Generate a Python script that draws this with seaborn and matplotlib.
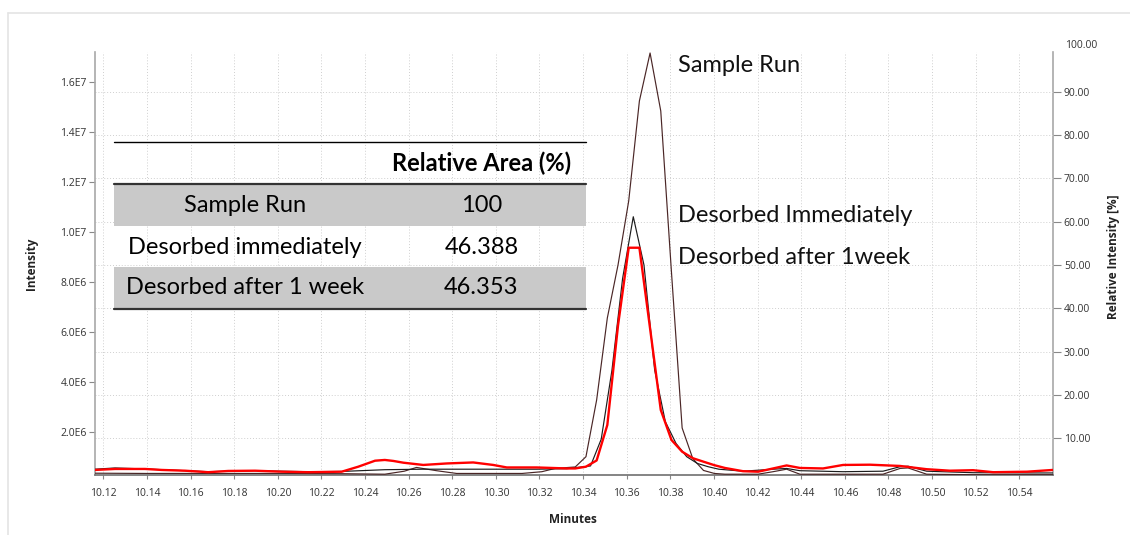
import numpy as np
import pandas as pd
import matplotlib
matplotlib.use("Agg")
import matplotlib.pyplot as plt
import seaborn as sns
from matplotlib.ticker import FuncFormatter, FixedLocator
from matplotlib.lines import Line2D
from matplotlib.patches import Rectangle

# ---------------- data (intensity in units of 1E6 counts) ----------------
series_names = ["Sample Run", "Desorbed immediately", "Desorbed after 1 week"]

sample_time = [10.1162, 10.1391, 10.1681, 10.2018, 10.2293, 10.2491, 10.2580, 10.2636,
               10.2728, 10.2820, 10.3120, 10.3211, 10.3271, 10.3364, 10.3413, 10.3462,
               10.3511, 10.3560, 10.3609, 10.3658, 10.3707, 10.3756, 10.3805, 10.3854,
               10.3903, 10.3952, 10.4002, 10.4050, 10.4133, 10.4202, 10.4271, 10.4333,
               10.4394, 10.4500, 10.4775, 10.4853, 10.4890, 10.4975, 10.5188, 10.5553]
sample_int = [0.34, 0.33, 0.33, 0.33, 0.32, 0.30, 0.42, 0.57, 0.44, 0.33,
              0.33, 0.40, 0.53, 0.59, 1.00, 3.27, 6.55, 8.67, 11.23, 15.23,
              17.15, 14.83, 8.39, 2.15, 0.92, 0.45, 0.33, 0.30, 0.30, 0.30,
              0.40, 0.50, 0.30, 0.30, 0.30, 0.53, 0.55, 0.30, 0.28, 0.28]

immediate_time = [10.1162, 10.1254, 10.1391, 10.1575, 10.1681, 10.1896, 10.2140, 10.2293,
                  10.2491, 10.2667, 10.2988, 10.3187, 10.3325, 10.3434, 10.3483, 10.3532,
                  10.3581, 10.3630, 10.3679, 10.3728, 10.3777, 10.3826, 10.3875, 10.3924,
                  10.3973, 10.4022, 10.4133, 10.4271, 10.4333, 10.4394, 10.4592, 10.4775,
                  10.4853, 10.4890, 10.4975, 10.5188, 10.5435, 10.5553]
immediate_int = [0.50, 0.55, 0.51, 0.44, 0.40, 0.44, 0.40, 0.41, 0.48, 0.50,
                 0.50, 0.50, 0.52, 0.63, 1.70, 4.45, 8.13, 10.60, 8.67, 4.47,
                 2.40, 1.53, 1.00, 0.73, 0.60, 0.50, 0.42, 0.50, 0.53, 0.44,
                 0.40, 0.42, 0.60, 0.62, 0.42, 0.36, 0.35, 0.35]

week_time = [10.1162, 10.1254, 10.1391, 10.1468, 10.1575, 10.1681, 10.1773, 10.1896,
             10.2018, 10.2140, 10.2293, 10.2369, 10.2446, 10.2491, 10.2530, 10.2576,
             10.2667, 10.2775, 10.2896, 10.2988, 10.3050, 10.3187, 10.3325, 10.3364,
             10.3413, 10.3462, 10.3511, 10.3560, 10.3609, 10.3658, 10.3707, 10.3756,
             10.3805, 10.3854, 10.3903, 10.3952, 10.4002, 10.4050, 10.4133, 10.4202,
             10.4271, 10.4333, 10.4394, 10.4500, 10.4592, 10.4715, 10.4853, 10.4975,
             10.5082, 10.5188, 10.5280, 10.5435, 10.5553]
week_int = [0.47, 0.51, 0.51, 0.47, 0.44, 0.38, 0.43, 0.44, 0.40, 0.38,
            0.40, 0.60, 0.84, 0.87, 0.83, 0.76, 0.67, 0.73, 0.77, 0.67,
            0.57, 0.57, 0.53, 0.53, 0.60, 0.85, 2.27, 6.25, 9.36, 9.36,
            6.13, 2.87, 1.67, 1.20, 0.94, 0.80, 0.66, 0.55, 0.42, 0.40,
            0.53, 0.65, 0.55, 0.53, 0.67, 0.68, 0.63, 0.50, 0.44, 0.46,
            0.38, 0.40, 0.47]

x_ticks = [10.12, 10.14, 10.16, 10.18, 10.20, 10.22, 10.24, 10.26, 10.28, 10.30, 10.32,
           10.34, 10.36, 10.38, 10.40, 10.42, 10.44, 10.46, 10.48, 10.50, 10.52, 10.54]
left_ticks = [2.0e6, 4.0e6, 6.0e6, 8.0e6, 10.0e6, 12.0e6, 14.0e6, 16.0e6]
right_ticks = [10, 20, 30, 40, 50, 60, 70, 80, 90]
full_scale = 17.33e6  # intensity that corresponds to 100 % relative intensity

table_header = "Relative Area (%)"
table_rows = ["Sample Run", "Desorbed immediately", "Desorbed after 1 week"]
table_values = ["100", "46.388", "46.353"]
peak_labels = ["Sample Run", "Desorbed Immediately", "Desorbed after 1week"]

# ---------------- figure ----------------
sns.set_style("white")
plt.rcParams["font.family"] = ["Open Sans", "DejaVu Sans"]

W, H = 1130, 535
fig = plt.figure(figsize=(W / 100, H / 100), dpi=100)


def fp(x, y):
    return x / W, 1 - y / H


ax_l, ax_t, ax_r, ax_b = 95, 52, 1052.7, 475
ax = fig.add_axes([ax_l / W, 1 - ax_b / H, (ax_r - ax_l) / W, (ax_b - ax_t) / H])

frames = []
for name, t, v in zip(series_names, [sample_time, immediate_time, week_time],
                      [sample_int, immediate_int, week_int]):
    frames.append(pd.DataFrame({"Minutes": t, "Intensity": np.array(v) * 1e6, "series": name}))
df = pd.concat(frames, ignore_index=True)

palette = {"Sample Run": "#4a2626", "Desorbed immediately": "#1c1c1c",
           "Desorbed after 1 week": "#ff0000"}
sizes = {"Sample Run": 0.85, "Desorbed immediately": 0.85, "Desorbed after 1 week": 1.7}
sns.lineplot(data=df, x="Minutes", y="Intensity", hue="series", size="series",
             hue_order=series_names, size_order=series_names,
             palette=palette, sizes=sizes, estimator=None, sort=False,
             legend=False, ax=ax, zorder=3)

ax.set_xlim(10.1162, 10.5553)
ax.set_ylim(0.268e6, 17.19e6)

ax.set_xticks(x_ticks)
ax.xaxis.set_major_formatter(FuncFormatter(lambda v, p: f"{v:.2f}"))
ax.set_yticks(left_ticks)


def sci(v, p):
    e = int(np.floor(np.log10(v)))
    return f"{v / 10 ** e:.1f}E{e}"


ax.yaxis.set_major_formatter(FuncFormatter(sci))
ax.yaxis.set_minor_locator(FixedLocator([p * full_scale / 100 for p in right_ticks]))

tick_fs = 7.5
ax.tick_params(axis="y", which="major", length=4, width=0.8, color="#888888",
               labelsize=tick_fs, labelcolor="#333333", pad=2, left=True)
ax.tick_params(axis="y", which="minor", length=0)
ax.tick_params(axis="x", which="major", length=3, width=0.8, color="#888888",
               labelsize=tick_fs, labelcolor="#333333", pad=6, bottom=True)

ax.grid(False)
ax.grid(axis="x", which="major", linestyle=(0, (1, 2)), color="#cfcfcf", linewidth=0.7, zorder=0)
ax.grid(axis="y", which="minor", linestyle=(0, (1, 2)), color="#cfcfcf", linewidth=0.7, zorder=0)
ax.set_axisbelow(True)

for s in ["top", "right"]:
    ax.spines[s].set_visible(False)
ax.spines["left"].set_color("#a8a8a8")
ax.spines["left"].set_linewidth(1.2)
ax.spines["bottom"].set_color("#707070")
ax.spines["bottom"].set_linewidth(1.2)

ax.set_xlabel("Minutes", fontsize=8.5, fontweight="bold", color="#222222")
ax.set_ylabel("Intensity", fontsize=8.5, fontweight="bold", color="#222222")
ax.xaxis.set_label_coords((573 - ax_l) / (ax_r - ax_l), -(513 - ax_b) / (ax_b - ax_t))
ax.yaxis.set_label_coords(-(95 - 38) / (ax_r - ax_l), 0.5)

sec = ax.secondary_yaxis("right", functions=(lambda v: v / full_scale * 100,
                                             lambda p: p * full_scale / 100))
sec.set_yticks(right_ticks)
sec.yaxis.set_major_formatter(FuncFormatter(lambda v, p: f"{v:.2f}"))
sec.tick_params(axis="y", length=6, width=0.8, color="#888888", labelsize=tick_fs,
                labelcolor="#333333", pad=2)
sec.spines["right"].set_color("#a8a8a8")
sec.spines["right"].set_linewidth(1.2)
fig.text(*fp(1113, 257), "Relative Intensity [%]", fontsize=8.5, fontweight="bold",
         color="#222222", rotation=90, ha="center", va="center")
fig.text(*fp(1065, 46), "100.00", fontsize=tick_fs, color="#333333", ha="left", va="center")

# ---------------- outer frame ----------------
fig.add_artist(Line2D([8 / W, 1], [1 - 13 / H] * 2, transform=fig.transFigure,
                      color="#e4e4e4", lw=1.2))
fig.add_artist(Line2D([8 / W] * 2, [1 - 13 / H, 0], transform=fig.transFigure,
                      color="#e4e4e4", lw=1.2))

# ---------------- peak labels ----------------
big = ["Lato", "DejaVu Sans"]
fs_big = 17
for lbl, yy in zip(peak_labels, [66, 216, 257]):
    fig.text(*fp(678, yy), lbl, fontsize=fs_big, family=big, ha="left", va="center",
             color="#111111")

# ---------------- table ----------------
tx0, tx1 = 114, 586
for (y0, y1) in [(184, 226), (267, 308)]:
    fig.add_artist(Rectangle(fp(tx0, y1), (tx1 - tx0) / W, (y1 - y0) / H,
                             transform=fig.transFigure, facecolor="#c9c9c9",
                             edgecolor="none", zorder=4))
fig.add_artist(Line2D([tx0 / W, tx1 / W], [1 - 142.3 / H] * 2, transform=fig.transFigure,
                      color="#000000", lw=1.0, zorder=5))
for yy in [183.5, 308.5]:
    fig.add_artist(Line2D([tx0 / W, tx1 / W], [1 - yy / H] * 2, transform=fig.transFigure,
                          color="#333333", lw=1.6, zorder=5))
fig.text(*fp(481.7, 163), table_header, fontsize=fs_big, family=big, fontweight="bold",
         ha="center", va="center", color="#000000", zorder=6)
for name, val, yy in zip(table_rows, table_values, [206, 247, 287]):
    fig.text(*fp(245, yy), name, fontsize=fs_big, family=big, ha="center", va="center",
             color="#000000", zorder=6)
    fig.text(*fp(481.5, yy), val, fontsize=fs_big, family=big, ha="center", va="center",
             color="#000000", zorder=6)

fig.savefig("out.png", dpi=100)
